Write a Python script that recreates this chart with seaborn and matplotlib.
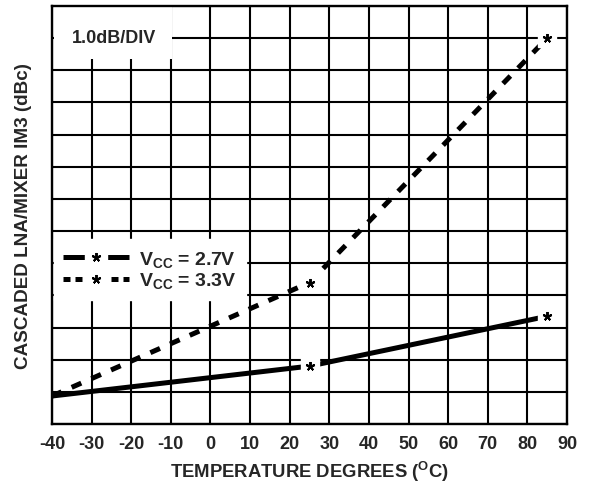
import matplotlib
matplotlib.use("Agg")
import matplotlib.pyplot as plt
from matplotlib.lines import Line2D
from matplotlib.legend_handler import HandlerTuple
from matplotlib.patches import Rectangle
import seaborn as sns

# Cascaded LNA/mixer IM3 versus temperature, relative dB (1 dB per division)
temps = [-40, 25, 85]
im3_vcc27 = [0.87, 1.8, 3.35]
im3_vcc33 = [0.87, 4.4, 12.0]
series_labels = ["V$_{\\mathrm{CC}}$ = 2.7V", "V$_{\\mathrm{CC}}$ = 3.3V"]
x_ticks = list(range(-40, 91, 10))
y_divisions = list(range(0, 14))

sns.set_theme(style="white")
plt.rcParams["font.family"] = ["Liberation Sans", "DejaVu Sans"]
plt.rcParams["font.weight"] = "bold"
plt.rcParams["mathtext.fontset"] = "custom"
plt.rcParams["mathtext.rm"] = "Liberation Sans:bold"
plt.rcParams["mathtext.it"] = "Liberation Sans:bold"
plt.rcParams["mathtext.bf"] = "Liberation Sans:bold"
plt.rcParams["mathtext.default"] = "rm"

fig = plt.figure(figsize=(5.9, 4.89), dpi=100)
ax = fig.add_axes([52 / 590, 64 / 489, 515 / 590, 418 / 489])

LW = 3.6
dash_main = (0, (2.1, 2.2))
star = (5, 2, 0)

sns.lineplot(x=temps, y=im3_vcc27, ax=ax, color="black", lw=LW,
             solid_capstyle="butt", zorder=2)
sns.lineplot(x=temps, y=im3_vcc33, ax=ax, color="black", lw=LW,
             linestyle=dash_main, dash_capstyle="butt", zorder=2)

# measured points: asterisk on a small white knock-out box
for vals in (im3_vcc27, im3_vcc33):
    ax.plot(temps[1:], vals[1:], ls="none", marker="s", ms=13.5,
            mfc="white", mec="white", zorder=3)
    ax.plot(temps[1:], vals[1:], ls="none", marker=star, ms=6.5,
            mec="black", mew=1.4, zorder=4)

ax.set_xlim(-40, 90)
ax.set_ylim(0, 13)
ax.set_xticks(x_ticks)
ax.set_xticklabels([str(t) for t in x_ticks])
ax.set_yticks(y_divisions)
ax.set_yticklabels([])
ax.tick_params(axis="both", length=0, labelsize=13, pad=8)
ax.set_axisbelow(True)
ax.grid(True, color="black", lw=1.5)
for sp in ax.spines.values():
    sp.set_color("black")
    sp.set_linewidth(1.7)

ax.set_xlabel("TEMPERATURE DEGREES ($^{\\mathrm{O}}$C)", fontsize=13.3,
              fontweight="bold", labelpad=5)
ax.set_ylabel("CASCADED LNA/MIXER IM3 (dBc)", fontsize=13.6,
              fontweight="bold")
ax.yaxis.set_label_coords(-0.039, 0.5)

# scale box in the top-left corner
ax.add_patch(Rectangle((0.003, 0.873), 0.23, 0.124, transform=ax.transAxes,
                       facecolor="white", edgecolor="none", zorder=1))
ax.text(0.12, 0.925, "1.0dB/DIV", transform=ax.transAxes, fontsize=13,
        fontweight="bold", ha="center", va="center", zorder=5)

# legend handles: line with a gap and asterisk in the middle
def handle(ls):
    return (Line2D([], [], color="black", lw=LW, ls=ls, solid_capstyle="butt",
                   dash_capstyle="butt"),
            Line2D([], [], ls="none", marker="s", ms=16, mfc="white", mec="white"),
            Line2D([], [], ls="none", marker=star, ms=6.5, mec="black", mew=1.4))

leg = ax.legend([handle("-"), handle((0, (1.4, 1.0)))], series_labels,
                handler_map={tuple: HandlerTuple(ndivide=1)},
                loc="upper left", bbox_to_anchor=(0.003, 0.443),
                fontsize=14, frameon=True, fancybox=False, framealpha=1,
                facecolor="white", edgecolor="white", handlelength=3.4,
                handletextpad=0.5, labelspacing=0.1, borderpad=0.5,
                borderaxespad=0)

fig.savefig("out.png", dpi=100)
